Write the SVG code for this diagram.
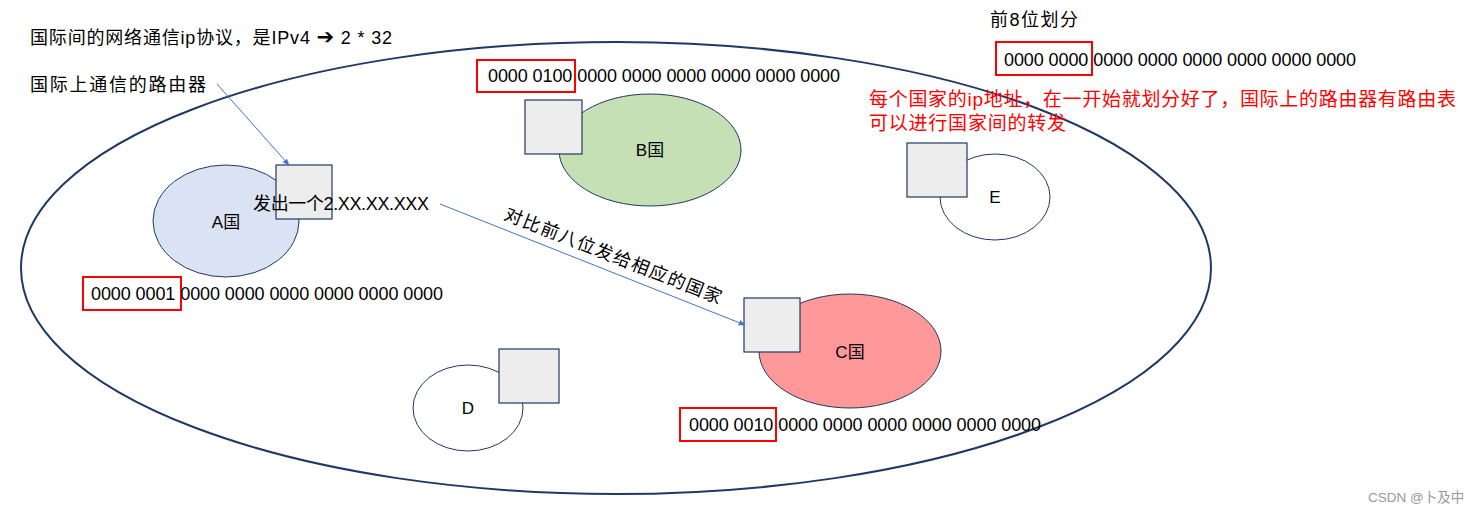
<svg xmlns="http://www.w3.org/2000/svg" width="1480" height="514" viewBox="0 0 1480 514">
<style>
text{font-family:"Liberation Sans","Noto Sans CJK SC",sans-serif;fill:#000;}
.t{font-size:18px;}
.lbl{font-size:17px;text-anchor:middle;dominant-baseline:central;}
.red{fill:#ff0000;font-size:19px;}
.rbox{fill:none;stroke:#ff0000;stroke-width:2;}
.router{fill:#ededed;stroke:#1f3864;stroke-width:1.2;}
.cty{stroke:#1f3864;stroke-width:1;}
.conn{stroke:#4472c4;stroke-width:1;fill:none;marker-end:url(#ah);}
</style>
<defs>
<marker id="ah" viewBox="0 0 10 10" refX="9" refY="5" markerWidth="7" markerHeight="7" orient="auto">
<path d="M0,1 L10,5 L0,9 z" fill="#4472c4"/>
</marker>
</defs>
<rect width="1480" height="514" fill="#fff"/>
<g id="world">
<ellipse cx="616" cy="268" rx="595" ry="226" fill="none" stroke="#1f3864" stroke-width="2"/>
</g>
<g id="countryA">
<ellipse class="cty" cx="226" cy="221" rx="73" ry="56" fill="#dae3f3"/>
<text class="lbl" x="226" y="222">A国</text>
<rect class="router" x="276" y="165" width="56" height="54"/>
</g>
<g id="countryB">
<ellipse class="cty" cx="650" cy="150" rx="91" ry="56" fill="#c5e0b4"/>
<text class="lbl" x="650" y="150">B国</text>
<rect class="router" x="525" y="100" width="57" height="54"/>
</g>
<g id="countryC">
<ellipse class="cty" cx="850" cy="351" rx="91" ry="57" fill="#ff9999"/>
<text class="lbl" x="850" y="352">C国</text>
<rect class="router" x="744" y="298" width="56" height="54"/>
</g>
<g id="countryD">
<ellipse class="cty" cx="468" cy="408" rx="55" ry="43" fill="#fff"/>
<text class="lbl" x="468" y="408">D</text>
<rect class="router" x="499" y="349" width="60" height="54"/>
</g>
<g id="countryE">
<ellipse class="cty" cx="995" cy="197" rx="55" ry="43" fill="#fff"/>
<text class="lbl" x="995" y="197">E</text>
<rect class="router" x="907" y="143" width="60" height="54"/>
</g>
<g id="connectors">
<line class="conn" x1="217" y1="84" x2="289" y2="165"/>
<line class="conn" x1="440" y1="204" x2="745" y2="325"/>
</g>
<g id="labels">
<text class="t" x="30" y="44" textLength="362">国际间的网络通信ip协议，是IPv4 <tspan font-family="DejaVu Sans" font-weight="bold" font-size="21">➔</tspan> 2 * 32</text>
<text class="t" x="30" y="91" textLength="176">国际上通信的路由器</text>
<text class="t" x="253" y="210" textLength="176">发出一个2.XX.XX.XXX</text>
<text class="t" x="503" y="219" transform="rotate(21.5 503 219)" textLength="232">对比前八位发给相应的国家</text>
<text class="t" x="990" y="26" textLength="88">前8位划分</text>
<text class="red" x="869" y="106" textLength="587">每个国家的ip地址，在一开始就划分好了，国际上的路由器有路由表</text>
<text class="red" x="869" y="130" textLength="197">可以进行国家间的转发</text>
<text x="1368" y="502" font-size="13.5" style="fill:#999">CSDN @卜及中</text>
</g>
<g id="addrTop">
<rect class="rbox" x="996" y="42" width="96" height="33"/>
<text class="t" x="1004" y="66" textLength="352">0000 0000 0000 0000 0000 0000 0000 0000</text>
</g>
<g id="addrB">
<rect class="rbox" x="477" y="60" width="98" height="32"/>
<text class="t" x="488" y="82" textLength="352">0000 0100 0000 0000 0000 0000 0000 0000</text>
</g>
<g id="addrA">
<rect class="rbox" x="83" y="277" width="98" height="33"/>
<text class="t" x="91" y="300" textLength="352">0000 0001 0000 0000 0000 0000 0000 0000</text>
</g>
<g id="addrC">
<rect class="rbox" x="680" y="408" width="96" height="33"/>
<text class="t" x="689" y="431" textLength="352">0000 0010 0000 0000 0000 0000 0000 0000</text>
</g>
</svg>
